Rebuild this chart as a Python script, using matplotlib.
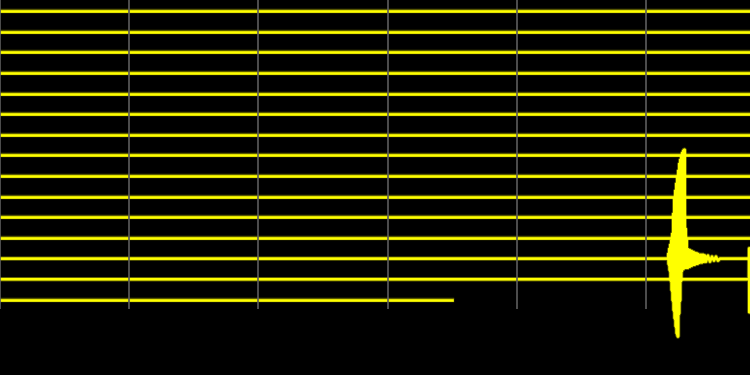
"""
Helicorder-style plot: 15 one-hour lines, one local event on line 12.
"""
import numpy as np
import matplotlib.pyplot as plt

# helicorder layout (minutes per line, grid every 10 min)
n_lines = 15
line_minutes = 60.0
last_line_end = 35.0          # last line only partly recorded
grid_minutes = [0, 10, 20, 30, 40, 50]

# main event, on line 12, onset in minutes
event_line = 12
event_onset = 51.70
# seconds after onset / amplitude in units of line spacing (positive = up)
event_sec = [0.0, 2.3, 4.6, 7.0, 9.3, 11.6, 13.9, 16.3, 18.6, 20.9, 23.2,
             25.5, 27.9, 30.2, 32.5, 34.8, 37.2, 39.5, 41.8, 44.1, 46.4,
             48.8, 51.1, 53.4, 55.7, 58.1, 60.4, 62.7, 65.0, 67.3, 69.7,
             72.0, 74.3, 76.6, 79.0, 81.3, 83.6, 85.9, 88.2, 90.6, 92.9,
             95.2, 97.5, 99.8, 102.2, 104.5, 106.8, 109.1, 111.5, 113.8,
             116.1, 118.4, 120.8, 123.1, 125.4, 127.7, 130.0, 132.4, 134.7,
             137.0, 139.3,
             144.0, 148.6, 153.3, 157.9, 162.6, 167.2, 171.8, 176.5,
             185.8, 195.0, 204.3, 213.6, 222.9, 232.2, 241.5]
event_amp = [0.0, 0.24, -0.29, 0.48, -0.58, 0.68, -1.07, 0.87, -1.55, 1.21,
             -2.04, 2.18, -2.52, 2.91, -2.91, 3.30, -3.30, 3.64, -3.64, 3.97,
             -3.78, 4.27, -2.67, 4.60, -2.04, 4.80, -1.07, 4.99, -0.58, 5.14,
             -0.48, 5.24, -0.48, 5.28, -0.44, 1.45, -0.44, 0.97, -0.44, 0.44,
             -0.44, 0.44, -0.39, 0.39, -0.39, 0.39, -0.34, 0.34, -0.34, 0.34,
             -0.29, 0.29, -0.29, 0.29, -0.29, 0.24, -0.24, 0.24, -0.24, 0.24,
             -0.24,
             0.19, -0.19, 0.19, -0.19, 0.19, -0.15, 0.15, -0.15,
             0.15, -0.15, 0.10, -0.10, 0.10, -0.10, 0.0]

# start of a second arrival at the right edge, line 13
event2_line = 13
event2_onset = 57.97
event2_sec = [0.0, 1.2, 2.3, 3.5]
event2_amp = [0.0, 1.50, -1.60, 1.00]

TRACE = '#ffff00'
GRID = '#5c5c5c'


def line_xy(i):
    end = last_line_end if i == n_lines - 1 else line_minutes
    x = [0.0]
    y = [0.0]
    for line, onset, sec, amp in ((event_line, event_onset, event_sec, event_amp),
                                  (event2_line, event2_onset, event2_sec, event2_amp)):
        if i == line:
            x += [onset + s / 60.0 for s in sec]
            y += amp
    x.append(end)
    y.append(0.0)
    return np.array(x), i - np.array(y)


def main():
    fig = plt.figure(figsize=(7.5, 3.75), dpi=100, facecolor='black')
    ax = fig.add_axes([0, 0, 1, 1])
    ax.set_facecolor('black')

    for i in range(n_lines):
        x, y = line_xy(i)
        ax.plot(x, y, color=TRACE, lw=3.2, alpha=0.35, zorder=2)
        ax.plot(x, y, color=TRACE, lw=1.9, zorder=3)

    ax.vlines(grid_minutes, -0.6, 14.44, color=GRID, lw=1.2, zorder=4)

    ax.set_xlim(0, 58.05)
    ax.set_ylim(17.64, -0.533)
    ax.axis('off')

    fig.savefig('out.png', dpi=100, facecolor='black')


if __name__ == "__main__":
    main()
